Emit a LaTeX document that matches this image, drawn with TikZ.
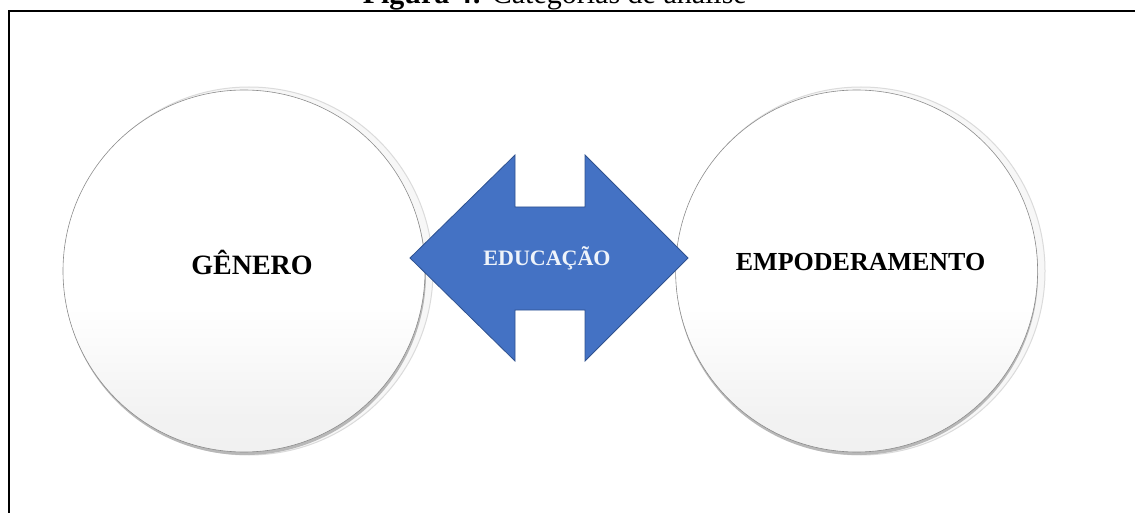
\documentclass[tikz,border=0pt]{standalone}
\usepackage{fontspec}
\setmainfont{Liberation Serif}
\usetikzlibrary{positioning}
\definecolor{edublue}{HTML}{4472C4}
\definecolor{eduedge}{HTML}{2F528F}
\definecolor{edutxt}{HTML}{EEF3FA}
\pgfdeclareverticalshading{catfade}{100bp}{color(0bp)=(black!8); color(30bp)=(black!5); color(45bp)=(white); color(100bp)=(white)}
\tikzset{cat/.style={circle,draw=black!45,line width=0.6pt,inner sep=0pt,minimum size=362pt,
                     shading=catfade},
	 catring/.style={circle,draw=black!14,line width=1pt,fill=black!3,inner sep=0pt,minimum size=368pt},
	 catshadow/.style={circle,fill=black!28,inner sep=0pt,minimum size=362pt},
	 catlabel/.style={font=\bfseries\fontsize{28}{30}\selectfont,inner sep=0pt},
	 dblarrow/.style={fill=edublue,draw=eduedge,line width=0.8pt,line join=miter},
	 edulabel/.style={font=\bfseries\fontsize{22}{24}\selectfont,text=edutxt,inner sep=0pt},
	 boxline/.style={line width=2pt},
	 node distance = 250pt
	 }

\begin{document}
\begin{tikzpicture}[x=1pt,y=-1pt] % Figura 4
        \useasboundingbox (0,0) rectangle (1135,513);
        \node[anchor=base east,inner sep=0pt,font=\fontsize{30}{32}\selectfont] (title) at (747,4) {\textbf{Figura 4:} Categorias de análise};
        \draw[boxline] (9,513) -- (9,11) -- (1135,11);
        % circles
        \node[catring] (gen-r) at (249,271) {};
        \node[catshadow] (gen-s) at (245,274) {};
        \node[cat] (gen) at (244,271) {};
        \node[catring] (emp-r) at (861,271) {};
        \node[catshadow] (emp-s) at (857,274) {};
        \node[cat] (emp) [right=of gen] {};
        \node[catlabel] (gen-t) at ([xshift=8pt,yshift=9pt]gen.center) {GÊNERO};
        \node[catlabel,font=\bfseries\fontsize{26}{28}\selectfont] (emp-t) at ([xshift=4pt,yshift=9pt]emp.center) {EMPODERAMENTO};
        % double arrow
        \draw[dblarrow] (410,258) -- (515,155) -- (515,207) -- (585,207) -- (585,155) -- (688,258)
                        -- (585,361) -- (585,310) -- (515,310) -- (515,361) -- cycle;
        \node[edulabel] (edu) at (547,258) {EDUCAÇÃO};
     \end{tikzpicture}
\end{document}
